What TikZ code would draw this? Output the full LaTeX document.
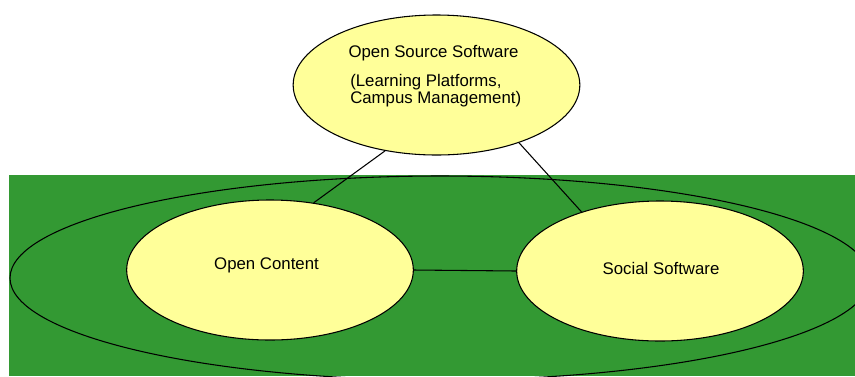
\documentclass[tikz,border=0pt]{standalone}
\usepackage{fontspec}
\setmainfont{Liberation Sans}
\usetikzlibrary{shapes.geometric}
\definecolor{fieldgreen}{RGB}{51,153,51}
\definecolor{bubbleyellow}{RGB}{255,255,153}

\begin{document}
\begin{tikzpicture}[x=0.75pt,y=-0.75pt,
  bubble/.style={ellipse,draw,line width=0.8pt,fill=bubbleyellow,
    minimum width=215pt,minimum height=105pt,inner sep=0pt},
  link/.style={line width=0.8pt},
  bubbletext/.style={font=\fontsize{12.6}{12.75}\selectfont,inner sep=0pt}]
  % Configurable parameters
  \def\bigrx{322.5pt}
  \def\bigry{76.5pt}
  %
  \useasboundingbox (0,0) rectangle (855,376);
  %
  % Green field
  \fill[fieldgreen] (9,175) rectangle (855,376);
  %
  % Outer ellipse
  \draw[link] (440,278) ellipse [x radius=\bigrx, y radius=\bigry];
  %
  % Links
  \node[bubble] (oss) at (436.5,85) {};
  \node[bubble] (content) at (270,270) {};
  \node[bubble] (social) at (660,271) {};
  \draw[link] (oss.232.5) -- (content.57);
  \draw[link] (oss.-35) -- (social.143);
  \draw[link] (content.east) -- (social.west);
  %
  % Texts
  \node[bubbletext] (osstitle) at (433.5,53) {Open Source Software};
  \node[bubbletext,anchor=west,align=left] (ossnote) at (350,90.5)
    {(Learning Platforms,\\Campus Management)};
  \node[bubbletext] (contenttext) at (266.5,265) {Open Content};
  \node[bubbletext] (socialtext) at (661,268) {Social Software};
  %
\end{tikzpicture}
\end{document}
